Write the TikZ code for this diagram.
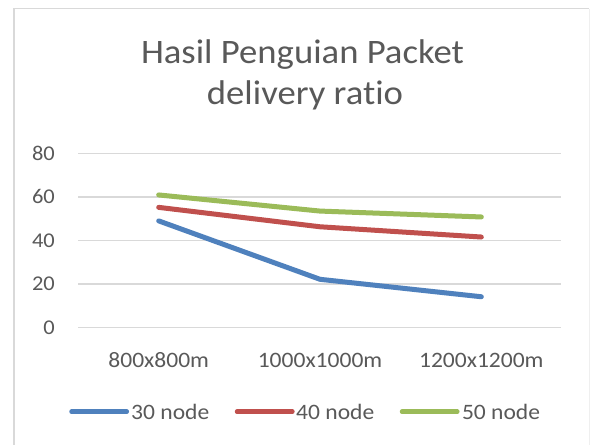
\documentclass[tikz,border=0pt]{standalone}
\usepackage{fontspec}
\setmainfont[Ligatures=NoCommon]{Carlito}
\definecolor{txt}{HTML}{595959}
\definecolor{gridc}{HTML}{D9D9D9}
\definecolor{framec}{HTML}{D9D9D9}
\definecolor{framefaint}{HTML}{EFEFEF}
\definecolor{s1}{HTML}{4F81BD}
\definecolor{s2}{HTML}{C0504D}
\definecolor{s3}{HTML}{9BBB59}
\begin{document}
\begin{tikzpicture}[x=1pt,y=1pt,
  ticklbl/.style={text=txt, inner sep=0pt, xscale=1.07, font=\fontsize{21}{25}\selectfont},
  lbl/.style={text=txt, inner sep=0pt, xscale=1.07, font=\fontsize{22}{26}\selectfont},
  ttl/.style={text=txt, inner sep=0pt, xscale=1.07, font=\fontsize{34.3}{41}\selectfont, anchor=base},
  gridline/.style={draw=gridc, line width=1.5pt},
  series/.style={line width=5pt, line cap=round, line join=round},
]
\useasboundingbox (0,0) rectangle (590,-445);
\fill[white] (0,0) rectangle (590,-445);

% chart frame
\draw[framec, line width=1.5pt] (14,-445) -- (14,-8.7) -- (589,-8.7);
\draw[framefaint, line width=1pt] (589,-8.7) -- (589,-445);

% title (the kern keeps "t" and "i" as separate glyphs)
\node[ttl] (title1) at (302.5,-63.3) {Hasil Penguian Packet};
\node[ttl] (title2) at (305,-104) {delivery rat\kern0pt io};

% value axis: gridlines and tick labels
\foreach \v in {0,20,40,60,80} {
  \coordinate (gl\v) at (78,{-327.7+2.18*\v});
  \coordinate (gr\v) at (561,{-327.7+2.18*\v});
  \draw[gridline] (gl\v) -- (gr\v);
  \node[ticklbl, anchor=east] (tick\v) at (55,{-327.7+2.18*\v}) {\v};
}

% category labels
\node[lbl, anchor=base] (cat1) at (158.7,-367) {800x800m};
\node[lbl, anchor=base] (cat2) at (320,-367) {1000x1000m};
\node[lbl, anchor=base] (cat3) at (481.3,-367) {1200x1200m};

% data points
\foreach \name/\a/\b/\c in {p/49/22.2/14.2, q/55.2/46.3/41.6, r/60.9/53.5/50.8} {
  \coordinate (\name1) at (158.7,{-327.7+2.18*\a});
  \coordinate (\name2) at (320,{-327.7+2.18*\b});
  \coordinate (\name3) at (481.3,{-327.7+2.18*\c});
}
\draw[series, s1] (p1) -- (p2) -- (p3);
\draw[series, s2] (q1) -- (q2) -- (q3);
\draw[series, s3] (r1) -- (r2) -- (r3);

% legend
\coordinate (la1) at (71.5,-411.7);  \coordinate (lb1) at (126.8,-411.7);
\coordinate (la2) at (237,-411.7);   \coordinate (lb2) at (292.4,-411.7);
\coordinate (la3) at (402,-411.7);   \coordinate (lb3) at (457.3,-411.7);
\draw[series, s1, line width=4.5pt] (la1) -- (lb1);
\draw[series, s2, line width=4.5pt] (la2) -- (lb2);
\draw[series, s3, line width=4.5pt] (la3) -- (lb3);
\node[lbl, anchor=base west] (leg1) at (131,-419) {30 node};
\node[lbl, anchor=base west] (leg2) at (296,-419) {40 node};
\node[lbl, anchor=base west] (leg3) at (461.8,-419) {50 node};
\end{tikzpicture}
\end{document}
